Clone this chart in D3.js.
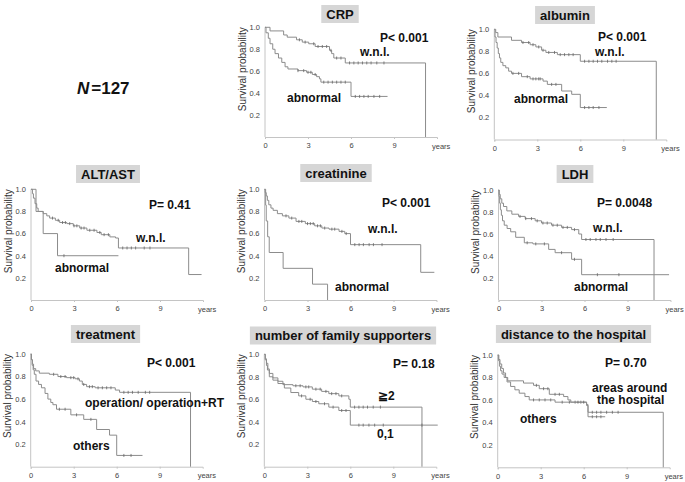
<!DOCTYPE html>
<html>
<head>
<meta charset="utf-8">
<script src="https://cdn.jsdelivr.net/npm/d3@7"></script>
<style>
  body { margin: 0; background: #fff; }
  svg { font-family: "Liberation Sans", Arial, Helvetica, sans-serif; }
</style>
</head>
<body>
<script>
// axis ticks
var yearTicks = [0, 3, 6, 9];
var probTicks = [0.2, 0.4, 0.6, 0.8, 1.0];

var titles = ['CRP', 'albumin', 'ALT/AST', 'creatinine', 'LDH', 'treatment',
  'number of family supporters', 'distance to the hospital'];
var pValues = ['P< 0.001', 'P< 0.001', 'P= 0.41', 'P< 0.001', 'P= 0.0048', 'P< 0.001', 'P= 0.18', 'P= 0.70'];
var groupLabels = [
  ['w.n.l.', 'abnormal'], ['w.n.l.', 'abnormal'], ['w.n.l.', 'abnormal'], ['w.n.l.', 'abnormal'],
  ['w.n.l.', 'abnormal'], ['operation/ operation+RT', 'others'], ['\u22672', '0,1'],
  ['areas around|the hospital', 'others']
];

// survival steps [years, probability] and censor times
var crpNormal = [[0,1],[0.35,0.967],[1.3,0.93],[1.55,0.91],[2.2,0.886],[2.6,0.865],[3.05,0.85],[3.5,0.825],[4.5,0.79],[4.65,0.76],[4.8,0.72],[5.6,0.675],[11.2,0]];
var crpNormalCens = [2.4,2.8,3.4,3.7,4.0,4.3,4.6,5.0,5.3,5.9,6.2,6.5,6.8,7.1,7.4,7.8,8.3];
var crpAbn = [[0,1],[0.07,0.95],[0.23,0.9],[0.35,0.85],[0.54,0.8],[0.7,0.76],[0.94,0.72],[1.17,0.68],[1.4,0.64],[1.6,0.62],[2.3,0.605],[2.9,0.59],[3.3,0.57],[3.6,0.55],[3.8,0.53],[3.9,0.5],[6.0,0.37],[8.55,0.37]];
var crpAbnCens = [2.3,2.7,3.0,3.2,3.5,4.1,4.4,4.7,5.0,5.3,5.6,6.3,6.6,6.9,7.2,7.6,8.0];

var albNormal = [[0,1],[0.1,0.97],[0.25,0.93],[1.2,0.9],[1.9,0.88],[2.5,0.86],[2.9,0.84],[3.3,0.81],[3.6,0.79],[4.4,0.77],[6.0,0.71],[11.3,0]];
var albNormalCens = [2.0,2.4,2.7,3.1,3.4,3.8,4.2,4.6,4.9,5.2,5.5,6.3,6.6,6.9,7.2,7.5,7.9,8.2,8.5];
var albAbn = [[0,1],[0.05,0.93],[0.12,0.88],[0.2,0.83],[0.28,0.78],[0.36,0.74],[0.45,0.7],[0.6,0.67],[0.8,0.65],[1.0,0.62],[1.2,0.6],[1.9,0.57],[2.5,0.55],[3.4,0.53],[3.7,0.5],[4.7,0.44],[5.4,0.41],[6.0,0.29],[7.85,0.29]];
var albAbnCens = [1.3,1.7,2.3,2.7,2.9,3.1,3.2,4.0,4.3,6.3,6.6,6.9,7.3];

var altNormal = [[0,1],[0.1,0.96],[0.17,0.92],[0.28,0.87],[0.4,0.83],[0.5,0.8],[0.85,0.78],[1.1,0.76],[1.3,0.74],[1.7,0.72],[2.0,0.7],[2.5,0.69],[2.95,0.67],[3.4,0.65],[3.9,0.63],[4.6,0.61],[4.9,0.59],[5.5,0.57],[5.9,0.56],[6.1,0.47],[11.0,0.23],[11.9,0.23]];
var altNormalCens = [1.5,1.9,2.2,2.4,2.7,3.0,3.2,3.5,3.7,4.1,4.4,4.8,5.1,5.4,6.4,6.7,7.0,7.3,7.9,8.3];
var altAbn = [[0,1],[0.35,0.8],[0.85,0.6],[1.85,0.4],[6.1,0.4]];
var altAbnCens = [2.3];

var creNormal = [[0,1],[0.05,0.97],[0.12,0.94],[0.2,0.9],[0.3,0.86],[0.45,0.83],[0.6,0.81],[0.9,0.78],[1.25,0.76],[1.7,0.74],[2.2,0.71],[2.85,0.69],[3.5,0.67],[4.0,0.65],[4.5,0.64],[5.2,0.62],[5.6,0.6],[6.0,0.5],[10.9,0.25],[11.85,0.25]];
var creNormalCens = [1.5,1.9,2.4,2.6,3.0,3.2,3.4,3.7,3.9,4.2,4.7,4.9,5.4,5.7,6.3,6.6,6.9,7.3,7.6,8.2];
var creAbn = [[0,1],[0.08,0.857],[0.12,0.714],[0.22,0.571],[0.33,0.429],[1.3,0.286],[3.35,0.143],[4.4,0]];
var creAbnCens = [];

var ldhNormal = [[0,1],[0.05,0.96],[0.12,0.92],[0.23,0.88],[0.35,0.85],[0.58,0.81],[0.93,0.78],[1.4,0.76],[1.86,0.74],[2.56,0.72],[3.0,0.7],[3.7,0.68],[4.4,0.66],[5.1,0.64],[5.6,0.6],[5.8,0.55],[10.85,0]];
var ldhNormalCens = [1.5,1.9,2.3,2.7,3.1,3.4,3.8,4.1,4.5,4.8,5.3,6.1,6.4,6.8,7.1,7.5,8.0];
var ldhAbn = [[0,1],[0.04,0.94],[0.08,0.88],[0.13,0.82],[0.2,0.77],[0.28,0.72],[0.4,0.68],[0.6,0.65],[0.85,0.62],[1.2,0.57],[1.8,0.52],[2.4,0.51],[3.5,0.46],[3.95,0.43],[5.1,0.37],[5.8,0.23],[11.9,0.23]];
var ldhAbnCens = [2.0,2.6,3.2,4.4,5.3,6.9,8.4];

var trtOper = [[0,1],[0.05,0.95],[0.12,0.91],[0.2,0.87],[0.35,0.85],[0.6,0.83],[1.3,0.82],[1.9,0.8],[2.5,0.79],[3.1,0.78],[3.4,0.76],[3.6,0.73],[3.9,0.71],[4.5,0.7],[5.9,0.68],[6.2,0.66],[11.15,0]];
var trtOperCens = [1.6,2.1,2.4,2.8,3.0,3.3,3.7,4.1,4.3,4.7,5.0,5.3,5.6,6.5,6.8,7.1,7.5,8.0,8.3];
var trtOther = [[0,1],[0.05,0.95],[0.1,0.9],[0.17,0.86],[0.25,0.82],[0.37,0.76],[0.55,0.73],[0.75,0.7],[1.0,0.65],[1.2,0.6],[1.4,0.57],[1.55,0.55],[1.8,0.51],[2.8,0.46],[3.7,0.42],[4.6,0.33],[5.5,0.28],[6.0,0.1],[7.8,0.1]];
var trtOtherCens = [2.0,2.4,3.2,4.2,6.5,7.0];

var famTwo = [[0,1],[0.07,0.96],[0.15,0.92],[0.25,0.87],[0.35,0.83],[0.6,0.79],[0.95,0.76],[1.3,0.73],[2.0,0.72],[2.7,0.71],[3.35,0.69],[4.0,0.67],[4.5,0.65],[5.2,0.63],[5.9,0.6],[6.0,0.53],[11.0,0]];
var famTwoCens = [2.2,2.5,2.9,3.1,3.6,3.9,4.3,4.7,5.0,5.4,6.3,6.6,6.9,7.2,7.6,8.1];
var famOne = [[0,1],[0.07,0.95],[0.15,0.9],[0.22,0.86],[0.35,0.8],[0.6,0.77],[0.95,0.74],[1.4,0.7],[1.85,0.66],[2.4,0.63],[2.9,0.6],[3.35,0.58],[3.8,0.56],[4.5,0.53],[5.2,0.5],[6.0,0.37],[12.1,0.37]];
var famOneCens = [2.6,3.2,3.6,4.2,4.8,5.4,5.7,6.6,6.9,7.3,7.7,8.3,11.0];

var disArea = [[0,1],[0.08,0.96],[0.16,0.92],[0.28,0.88],[0.4,0.84],[0.55,0.8],[0.7,0.77],[1.8,0.75],[2.5,0.73],[2.9,0.7],[3.6,0.65],[4.6,0.63],[4.9,0.6],[5.1,0.58],[6.2,0.56],[6.3,0.49],[11.55,0]];
var disAreaCens = [2.7,3.2,3.5,4.0,4.3,5.4,5.8,6.6,6.9,7.2,7.6,8.0,8.4];
var disOther = [[0,1],[0.05,0.95],[0.12,0.9],[0.2,0.86],[0.3,0.83],[0.45,0.8],[0.65,0.76],[0.9,0.72],[1.2,0.69],[1.5,0.66],[1.9,0.63],[2.2,0.6],[4.0,0.58],[6.2,0.55],[6.3,0.45],[7.5,0.45]];
var disOtherCens = [2.5,2.9,3.3,3.7,4.5,5.0,5.6,6.0,6.6,6.9,7.2];

var curves = [
  [[crpNormal, crpNormalCens], [crpAbn, crpAbnCens]],
  [[albNormal, albNormalCens], [albAbn, albAbnCens]],
  [[altNormal, altNormalCens], [altAbn, altAbnCens]],
  [[creNormal, creNormalCens], [creAbn, creAbnCens]],
  [[ldhNormal, ldhNormalCens], [ldhAbn, ldhAbnCens]],
  [[trtOper, trtOperCens], [trtOther, trtOtherCens]],
  [[famTwo, famTwoCens], [famOne, famOneCens]],
  [[disArea, disAreaCens], [disOther, disOtherCens]]
];

// layout: axis origin, top of y (1.0), title box centre/top, text spots
var layout = [
  {ox:265, oy:137, top:27.3, tx:340, ty:5, p:[380,42], g:[[360,56],[287,102]]},
  {ox:494.3, oy:139.5, top:29.3, tx:565, ty:6, p:[598,41], g:[[595,56],[514,103]]},
  {ox:31, oy:300, top:189.3, tx:108, ty:165, p:[149,209], g:[[136,242],[55,272]]},
  {ox:264.5, oy:300, top:189.3, tx:336, ty:164, p:[382,207], g:[[368,233],[335,291]]},
  {ox:498.5, oy:300, top:190, tx:575, ty:165, p:[597,207], g:[[593,232],[574,291]]},
  {ox:30.7, oy:466.7, top:354, tx:105.5, ty:325, p:[147,367], g:[[85,407],[73,450]]},
  {ox:264.3, oy:466.7, top:354.3, tx:343, ty:326.5, p:[393,368], g:[[378,400],[377,438]]},
  {ox:497.7, oy:467.3, top:355, tx:573.5, ty:325, p:[605,367], g:[[592,391.5],[520,423]]}
];

var svg = d3.select('body').append('svg').attr('width', 685).attr('height', 482);

var axisCol = '#c4c4c4', curveCol = '#8c8c8c';

function survAt(steps, t) {
  var s = steps[0][1];
  steps.forEach(function(d) { if (d[0] <= t) s = d[1]; });
  return s;
}

layout.forEach(function(L, i) {
  var x = d3.scaleLinear().domain([0, 12]).range([L.ox, L.ox + 172]);
  var y = d3.scaleLinear().domain([0, 1]).range([L.oy, L.top]);
  var g = svg.append('g');

  // title with grey box
  var tb = g.append('rect').attr('fill', '#d6d6d6');
  var tt = g.append('text')
    .attr('x', L.tx).attr('y', L.ty + 13.5)
    .attr('text-anchor', 'middle')
    .attr('font-size', 13).attr('font-weight', 'bold').attr('fill', '#111')
    .text(titles[i]);
  var tw = tt.node().getComputedTextLength();
  tb.attr('x', L.tx - tw / 2 - 5).attr('y', L.ty).attr('width', tw + 10).attr('height', 18);

  // axes
  var ax = g.append('g').attr('transform', 'translate(0,' + L.oy + ')')
    .call(d3.axisBottom(x).tickValues(yearTicks).tickSize(2).tickPadding(4).tickFormat(d3.format('d')));
  var ay = g.append('g').attr('transform', 'translate(' + L.ox + ',0)')
    .call(d3.axisLeft(y).tickValues(probTicks).tickSize(0).tickPadding(5).tickFormat(d3.format('.1f')));
  [ax, ay].forEach(function(a) {
    a.attr('color', '#444');
    a.select('.domain').attr('stroke', axisCol);
    a.selectAll('line').attr('stroke', axisCol);
    a.selectAll('text').attr('font-size', 7.5).attr('fill', '#444')
      .attr('font-family', '"Liberation Sans", Arial, sans-serif');
  });
  ay.select('.domain').attr('d', 'M0,' + L.oy + 'V' + L.top);

  g.append('text').attr('x', L.ox + 167).attr('y', L.oy + 11.5)
    .attr('font-size', 7.5).attr('fill', '#444').text('years');

  g.append('text')
    .attr('transform', 'translate(' + (L.ox - 19.5) + ',' + L.top + ') rotate(-90)')
    .attr('text-anchor', 'end').attr('font-size', 10).attr('fill', '#333')
    .text('Survival probability');

  // curves
  var line = d3.line().x(function(d) { return x(d[0]); }).y(function(d) { return y(d[1]); })
    .curve(d3.curveStepAfter);
  curves[i].forEach(function(c) {
    g.append('path').datum(c[0]).attr('d', line)
      .attr('fill', 'none').attr('stroke', curveCol).attr('stroke-width', 1);
    g.selectAll(null).data(c[1]).enter().append('line')
      .attr('x1', function(t) { return x(t); }).attr('x2', function(t) { return x(t); })
      .attr('y1', function(t) { return y(survAt(c[0], t)) - 1.5; })
      .attr('y2', function(t) { return y(survAt(c[0], t)) + 1.5; })
      .attr('stroke', '#666').attr('stroke-width', 0.8);
  });

  // P value and group labels
  g.append('text').attr('x', L.p[0]).attr('y', L.p[1])
    .attr('font-size', 12).attr('font-weight', 'bold').attr('fill', '#111').text(pValues[i]);
  groupLabels[i].forEach(function(lab, k) {
    var t = g.append('text').attr('x', L.g[k][0]).attr('y', L.g[k][1])
      .attr('font-size', 12).attr('font-weight', 'bold').attr('fill', '#111');
    lab.split('|').forEach(function(part, j) {
      t.append('tspan').attr('x', L.g[k][0] + j * 5).attr('dy', j ? 12 : 0).text(part);
    });
  });
});

// sample size
var nt = svg.append('text').attr('x', 77).attr('y', 94)
  .attr('font-size', 17).attr('font-weight', 'bold').attr('fill', '#111');
nt.append('tspan').attr('font-style', 'italic').text('N');
nt.append('tspan').attr('dx', 2).text('=127');
</script>
</body>
</html>
